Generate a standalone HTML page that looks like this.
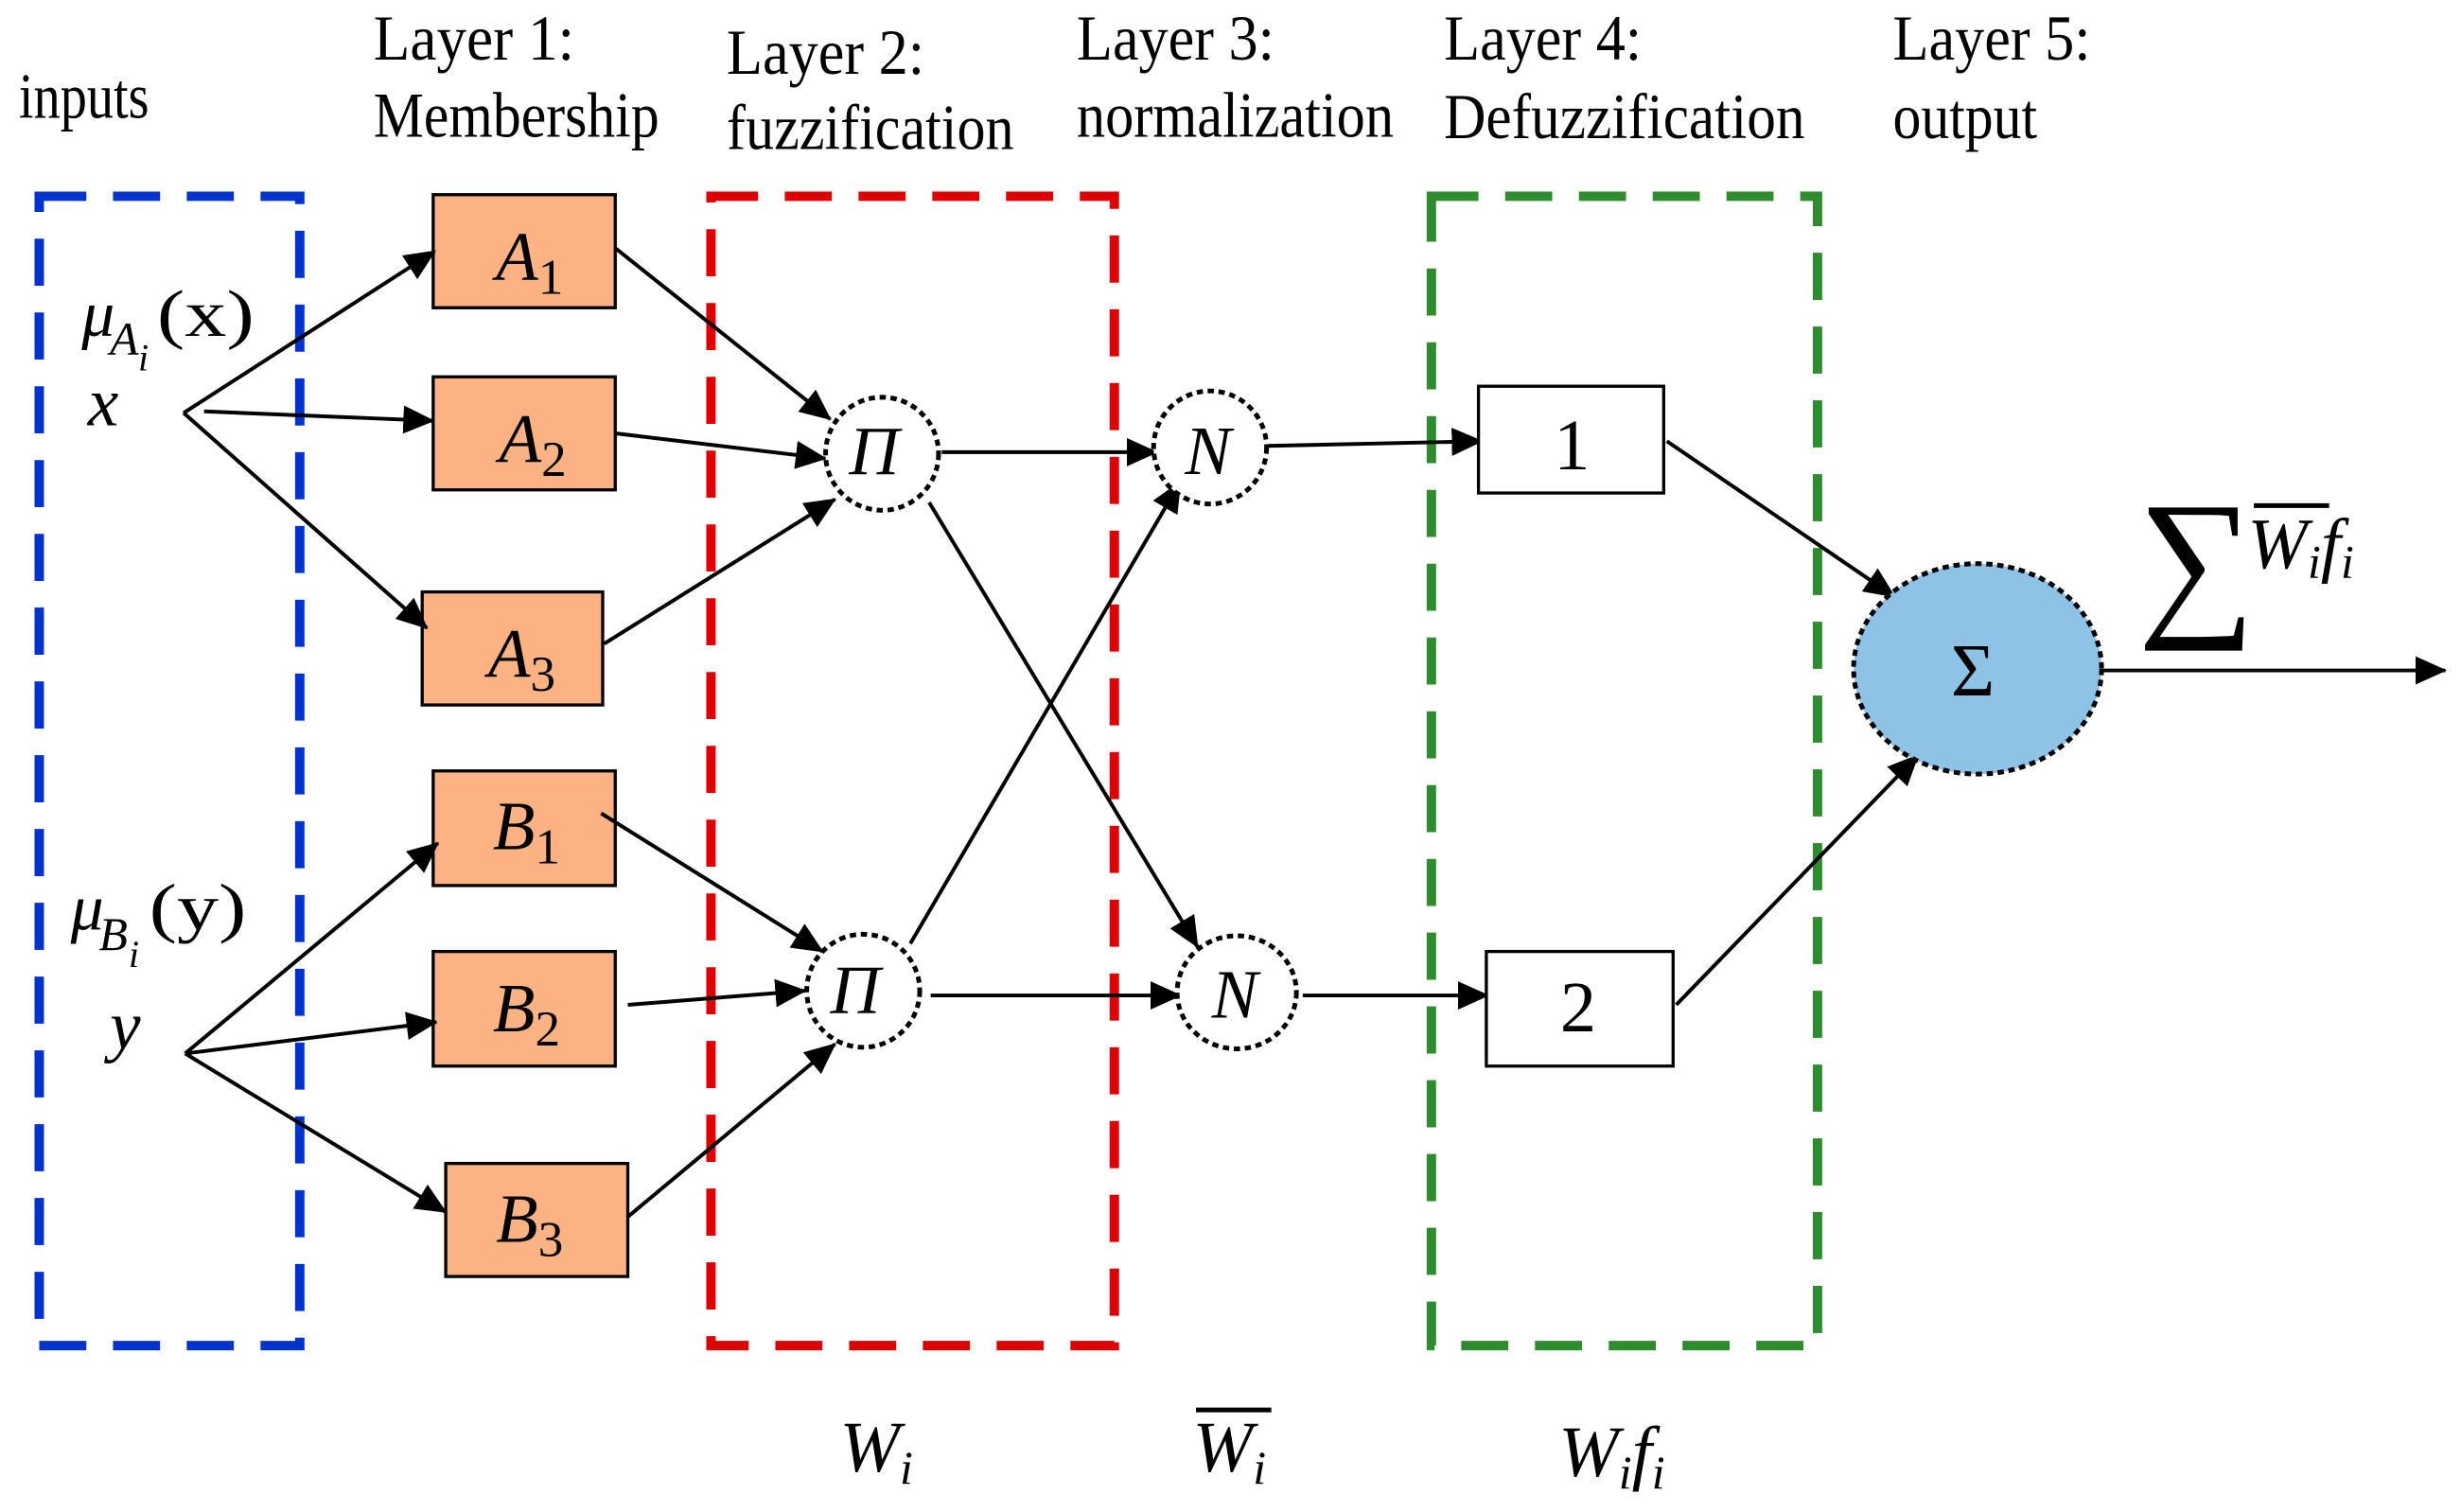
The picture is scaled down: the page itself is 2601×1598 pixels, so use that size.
<!DOCTYPE html>
<html><head><meta charset="utf-8"><style>
html,body{margin:0;padding:0;background:#fff;}
svg{display:block;}
text{font-family:"Liberation Serif",serif;fill:#000;}
.lab{font-size:41px;}
.it{font-style:italic;}
</style></head><body>
<svg width="2601" height="1598" viewBox="0 0 1568 963" preserveAspectRatio="none" xmlns="http://www.w3.org/2000/svg">
<defs>
<marker id="ah2" markerWidth="20" markerHeight="18" refX="19" refY="9" orient="auto" markerUnits="userSpaceOnUse" viewBox="0 0 20 18">
<path d="M0,0 L20,9 L0,18 z" fill="#000"/>
</marker>
</defs>
<!-- header labels -->
<text class="lab" x="12" y="75" textLength="83" lengthAdjust="spacingAndGlyphs">inputs</text>
<text class="lab" x="238" y="38" textLength="128" lengthAdjust="spacingAndGlyphs">Layer 1:</text>
<text class="lab" x="238" y="87" textLength="182" lengthAdjust="spacingAndGlyphs">Membership</text>
<text class="lab" x="463" y="47" textLength="126" lengthAdjust="spacingAndGlyphs">Layer 2:</text>
<text class="lab" x="463" y="95" textLength="183" lengthAdjust="spacingAndGlyphs">fuzzification</text>
<text class="lab" x="686" y="38" textLength="126" lengthAdjust="spacingAndGlyphs">Layer 3:</text>
<text class="lab" x="686" y="87" textLength="202" lengthAdjust="spacingAndGlyphs">normalization</text>
<text class="lab" x="920" y="38" textLength="126" lengthAdjust="spacingAndGlyphs">Layer 4:</text>
<text class="lab" x="920" y="88" textLength="230" lengthAdjust="spacingAndGlyphs">Defuzzification</text>
<text class="lab" x="1206" y="38" textLength="126" lengthAdjust="spacingAndGlyphs">Layer 5:</text>
<text class="lab" x="1206" y="88" textLength="92" lengthAdjust="spacingAndGlyphs">output</text>

<!-- dashed boxes -->
<rect x="25" y="125" width="166" height="732" fill="none" stroke="#0033cc" stroke-width="6" stroke-dasharray="30,17"/>
<rect x="453" y="125" width="257" height="732" fill="none" stroke="#dd0000" stroke-width="6" stroke-dasharray="30,17"/>
<rect x="912" y="125" width="246" height="732" fill="none" stroke="#2e8b2e" stroke-width="6" stroke-dasharray="30,17"/>

<!-- input labels -->
<text x="52" y="214" font-size="42" class="it">μ</text>
<text x="70" y="226" font-size="30" class="it">A</text>
<text x="88" y="236" font-size="24" class="it">i</text>
<text x="100" y="214" font-size="42" textLength="62" lengthAdjust="spacingAndGlyphs">(x)</text>
<text x="56" y="271" font-size="44" class="it">x</text>
<text x="45" y="592" font-size="42" class="it">μ</text>
<text x="63" y="605" font-size="30" class="it">B</text>
<text x="82" y="616" font-size="24" class="it">i</text>
<text x="95" y="592" font-size="42" textLength="62" lengthAdjust="spacingAndGlyphs">(y)</text>
<text x="70" y="668" font-size="44" class="it">y</text>

<!-- membership boxes -->
<g fill="#fbb383" stroke="#000" stroke-width="2">
<rect x="276" y="124" width="116" height="72"/>
<rect x="276" y="240" width="116" height="72"/>
<rect x="269" y="377" width="115" height="72"/>
<rect x="276" y="491" width="116" height="73"/>
<rect x="276" y="606" width="116" height="73"/>
<rect x="284" y="741" width="116" height="72"/>
</g>
<g font-size="44" class="it">
<text x="316" y="178">A<tspan font-size="32" font-style="normal" dy="9">1</tspan></text>
<text x="318" y="294">A<tspan font-size="32" font-style="normal" dy="9">2</tspan></text>
<text x="311" y="431">A<tspan font-size="32" font-style="normal" dy="9">3</tspan></text>
<text x="314" y="541">B<tspan font-size="32" font-style="normal" dy="9">1</tspan></text>
<text x="314" y="657">B<tspan font-size="32" font-style="normal" dy="9">2</tspan></text>
<text x="316" y="791">B<tspan font-size="32" font-style="normal" dy="9">3</tspan></text>
</g>

<!-- connectors -->
<g stroke="#000" stroke-width="2.4" fill="none" marker-end="url(#ah2)">
<line x1="117" y1="263" x2="277" y2="160"/>
<line x1="130" y1="262" x2="276" y2="268"/>
<line x1="117" y1="263" x2="272" y2="400"/>
<line x1="118" y1="671" x2="279" y2="537"/>
<line x1="118" y1="671" x2="278" y2="651"/>
<line x1="118" y1="671" x2="284" y2="772"/>
<line x1="392" y1="158" x2="529" y2="267"/>
<line x1="392" y1="276" x2="526" y2="292"/>
<line x1="385" y1="410" x2="532" y2="318"/>
<line x1="383" y1="518" x2="524" y2="606"/>
<line x1="400" y1="640" x2="513" y2="631"/>
<line x1="400" y1="775" x2="532" y2="665"/>
<line x1="600" y1="288" x2="737" y2="288"/>
<line x1="592" y1="320" x2="763" y2="603"/>
<line x1="580" y1="601" x2="752" y2="307"/>
<line x1="593" y1="634" x2="752" y2="634"/>
<line x1="808" y1="284" x2="944" y2="281"/>
<line x1="830" y1="634" x2="948" y2="634"/>
<line x1="1062" y1="281" x2="1207" y2="380"/>
<line x1="1068" y1="640" x2="1222" y2="481"/>
<line x1="1340" y1="427" x2="1558" y2="427"/>
</g>

<!-- circles -->
<g fill="#fff" stroke="#000" stroke-width="3" stroke-dasharray="4,3">
<ellipse cx="562" cy="289" rx="36" ry="36"/>
<ellipse cx="550" cy="631" rx="36" ry="36"/>
<ellipse cx="771" cy="285" rx="36" ry="36"/>
<ellipse cx="788" cy="632" rx="38" ry="36"/>
</g>
<g font-size="44" class="it">
<text x="541" y="302">Π</text>
<text x="529" y="645">Π</text>
<text x="755" y="302">N</text>
<text x="772" y="648">N</text>
</g>

<!-- layer 4 boxes -->
<rect x="942" y="246" width="118" height="68" fill="#fff" stroke="#000" stroke-width="2"/>
<rect x="947" y="606" width="119" height="73" fill="#fff" stroke="#000" stroke-width="2"/>
<text x="990" y="299" font-size="46">1</text>
<text x="994" y="657" font-size="46">2</text>

<!-- sigma node -->
<ellipse cx="1260" cy="426" rx="79" ry="67" fill="#8ec3e6" stroke="#000" stroke-width="3" stroke-dasharray="4,3"/>
<text x="1243" y="443" font-size="48">Σ</text>

<!-- formula top right -->
<text x="1362" y="392" font-size="105">∑</text>
<line x1="1436" y1="322" x2="1484" y2="322" stroke="#000" stroke-width="3"/>
<text x="1432" y="362" font-size="46" class="it">W<tspan font-size="30" dy="6">i</tspan><tspan font-size="46" dy="-6">f</tspan><tspan font-size="30" dy="6">i</tspan></text>

<!-- bottom labels -->
<text x="535" y="937" font-size="46" class="it">W<tspan font-size="30" dy="8">i</tspan></text>
<line x1="762" y1="898" x2="810" y2="898" stroke="#000" stroke-width="3"/>
<text x="760" y="937" font-size="46" class="it">W<tspan font-size="30" dy="8">i</tspan></text>
<text x="993" y="940" font-size="46" class="it">W<tspan font-size="30" dy="8">i</tspan><tspan font-size="46" dy="-8">f</tspan><tspan font-size="30" dy="8">i</tspan></text>
</svg>
</body></html>
